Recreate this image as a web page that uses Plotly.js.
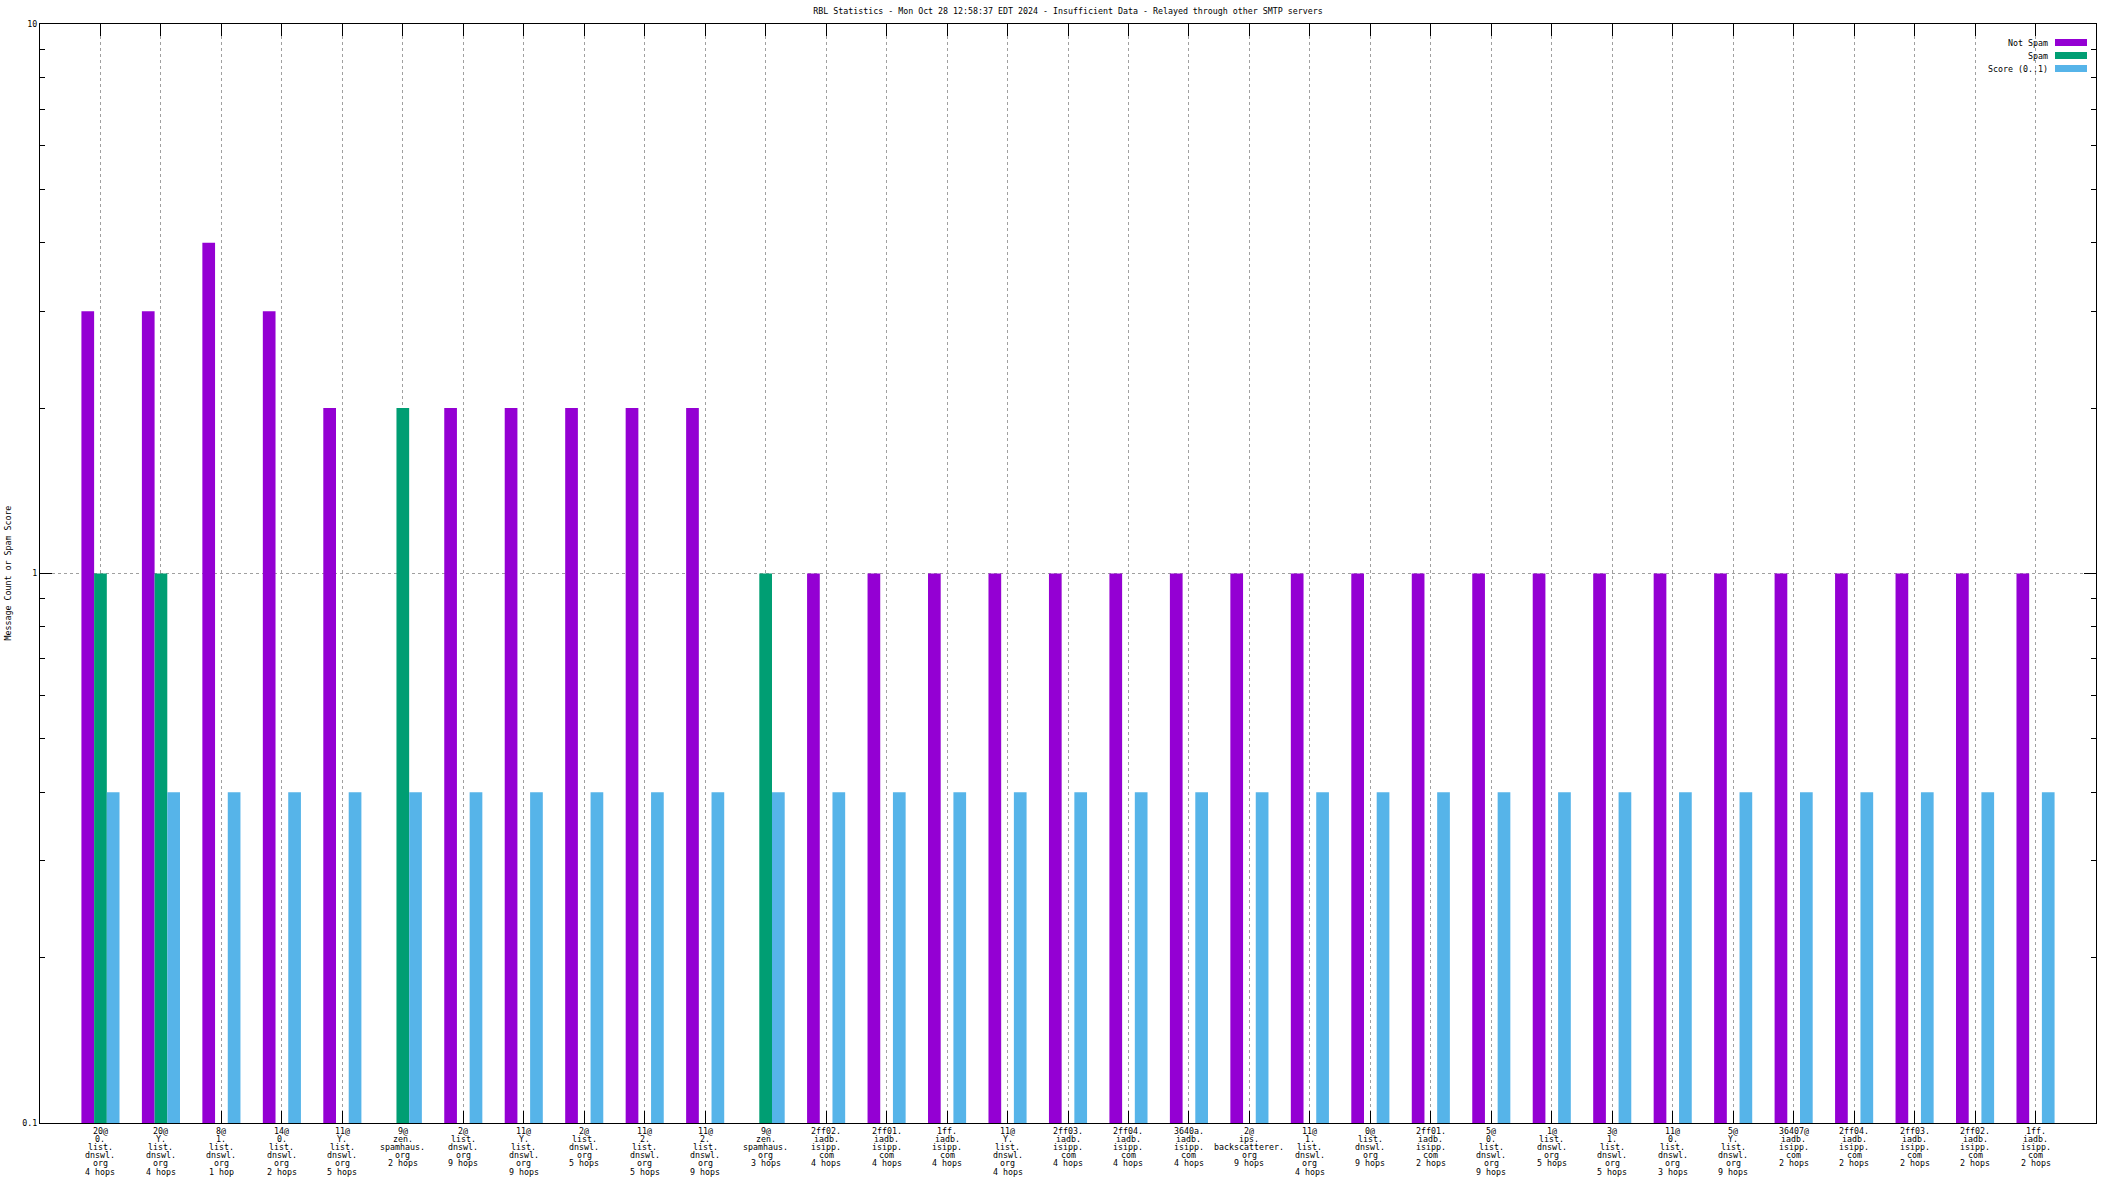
<!DOCTYPE html>
<html>
<head>
<meta charset="utf-8">
<script src="https://cdn.plot.ly/plotly-3.0.1.min.js"></script>
<style>
html,body{margin:0;padding:0;background:#fff;}
#chart{width:2112px;height:1188px;}
</style>
</head>
<body>
<div id="chart"></div>
<script>
const chartTitle = "RBL Statistics - Mon Oct 28 12:58:37 EDT 2024 - Insufficient Data - Relayed through other SMTP servers";
const yTitle = "Message Count or Spam Score";

const categories = [
  "20@\n0.\nlist.\ndnswl.\norg\n4 hops",
  "20@\nY.\nlist.\ndnswl.\norg\n4 hops",
  "8@\n1.\nlist.\ndnswl.\norg\n1 hop",
  "14@\n0.\nlist.\ndnswl.\norg\n2 hops",
  "11@\nY.\nlist.\ndnswl.\norg\n5 hops",
  "9@\nzen.\nspamhaus.\norg\n2 hops",
  "2@\nlist.\ndnswl.\norg\n9 hops",
  "11@\nY.\nlist.\ndnswl.\norg\n9 hops",
  "2@\nlist.\ndnswl.\norg\n5 hops",
  "11@\n2.\nlist.\ndnswl.\norg\n5 hops",
  "11@\n2.\nlist.\ndnswl.\norg\n9 hops",
  "9@\nzen.\nspamhaus.\norg\n3 hops",
  "2ff02.\niadb.\nisipp.\ncom\n4 hops",
  "2ff01.\niadb.\nisipp.\ncom\n4 hops",
  "1ff.\niadb.\nisipp.\ncom\n4 hops",
  "11@\nY.\nlist.\ndnswl.\norg\n4 hops",
  "2ff03.\niadb.\nisipp.\ncom\n4 hops",
  "2ff04.\niadb.\nisipp.\ncom\n4 hops",
  "3640a.\niadb.\nisipp.\ncom\n4 hops",
  "2@\nips.\nbackscatterer.\norg\n9 hops",
  "11@\n1.\nlist.\ndnswl.\norg\n4 hops",
  "0@\nlist.\ndnswl.\norg\n9 hops",
  "2ff01.\niadb.\nisipp.\ncom\n2 hops",
  "5@\n0.\nlist.\ndnswl.\norg\n9 hops",
  "1@\nlist.\ndnswl.\norg\n5 hops",
  "3@\n1.\nlist.\ndnswl.\norg\n5 hops",
  "11@\n0.\nlist.\ndnswl.\norg\n3 hops",
  "5@\nY.\nlist.\ndnswl.\norg\n9 hops",
  "36407@\niadb.\nisipp.\ncom\n2 hops",
  "2ff04.\niadb.\nisipp.\ncom\n2 hops",
  "2ff03.\niadb.\nisipp.\ncom\n2 hops",
  "2ff02.\niadb.\nisipp.\ncom\n2 hops",
  "1ff.\niadb.\nisipp.\ncom\n2 hops"
];

const notSpam = [3, 3, 4, 3, 2, null, 2, 2, 2, 2, 2, null,
  1, 1, 1, 1, 1, 1, 1, 1, 1, 1, 1, 1, 1, 1, 1, 1, 1, 1, 1, 1, 1];
const spam = [1, 1, null, null, null, 2, null, null, null, null, null, 1,
  null, null, null, null, null, null, null, null, null, null, null, null, null, null, null, null, null, null, null, null, null];
const score = [0.4, 0.4, 0.4, 0.4, 0.4, 0.4, 0.4, 0.4, 0.4, 0.4, 0.4, 0.4,
  0.4, 0.4, 0.4, 0.4, 0.4, 0.4, 0.4, 0.4, 0.4, 0.4, 0.4, 0.4, 0.4, 0.4, 0.4, 0.4, 0.4, 0.4, 0.4, 0.4, 0.4];

const seriesNames = ["Not Spam", "Spam", "Score (0..1)"];
const seriesColors = ["#9400d3", "#009e73", "#56b4e9"];

const yMajorTicks = [0.1, 1, 10];
const yMajorLabels = ["0.1", "1", "10"];
const yMinorTicks = [0.2, 0.3, 0.4, 0.5, 0.6, 0.7, 0.8, 0.9, 2, 3, 4, 5, 6, 7, 8, 9];

const FONT = "DejaVu Sans Mono, monospace";
const FS = 8.3;
const xIdx = categories.map((_, i) => i);
const seriesData = [notSpam, spam, score];

const traces = seriesData.map((vals, k) => ({
  type: "bar",
  x: xIdx,
  y: vals,
  name: seriesNames[k],
  marker: {color: seriesColors[k], line: {width: 0}},
  showlegend: false,
  hoverinfo: "x+y"
}));

const annotations = [];
// category labels, one annotation per line
categories.forEach((lab, i) => {
  lab.split("\n").forEach((line, j) => {
    annotations.push({
      text: line, x: i, xref: "x", y: 0, yref: "paper",
      xanchor: "center", yanchor: "middle",
      yshift: -8 - 8.1 * j, showarrow: false,
      font: {family: FONT, size: FS, color: "#000"}
    });
  });
});
// y-axis title
annotations.push({
  text: yTitle, x: 0, xref: "paper", y: 0.5, yref: "paper",
  xanchor: "center", yanchor: "middle", xshift: -33, textangle: -90,
  showarrow: false, font: {family: FONT, size: FS, color: "#000"}
});
// legend (text then swatch, gnuplot style)
const shapes = [];
seriesNames.forEach((nm, k) => {
  const cy = -18.5 - 13 * k;
  annotations.push({
    text: nm, x: 1, xref: "paper", y: 1, yref: "paper",
    xanchor: "right", yanchor: "middle", xshift: -46, yshift: cy,
    showarrow: false, font: {family: FONT, size: FS, color: "#000"}
  });
  shapes.push({
    type: "rect", xref: "paper", yref: "paper",
    xsizemode: "pixel", ysizemode: "pixel", xanchor: 1, yanchor: 1,
    x0: -41, x1: -9, y0: cy - 3.5, y1: cy + 3.5,
    fillcolor: seriesColors[k], line: {width: 0}
  });
});

const layout = {
  width: 2112, height: 1188,
  margin: {l: 40, r: 16, t: 24, b: 65, pad: 0},
  paper_bgcolor: "#fff", plot_bgcolor: "#fff",
  font: {family: FONT, size: FS, color: "#000"},
  title: {
    text: chartTitle, x: 0.5, xref: "paper", xanchor: "center",
    y: 1 - 11 / 1188, yref: "container", yanchor: "middle",
    font: {family: FONT, size: FS, color: "#000"}
  },
  barmode: "group",
  bargap: 0.37,
  bargroupgap: 0,
  xaxis: {
    type: "linear",
    range: [-1, 33],
    tickvals: xIdx,
    showticklabels: false,
    ticks: "inside", ticklen: 12, tickwidth: 1, tickcolor: "#000",
    showline: true, linecolor: "#000", linewidth: 1, mirror: "ticks",
    showgrid: true, gridcolor: "#a0a0a0", griddash: "dot", gridwidth: 1,
    zeroline: false, layer: "below traces", fixedrange: true
  },
  yaxis: {
    type: "log",
    range: [-1, 1],
    tickvals: yMajorTicks,
    ticktext: yMajorLabels,
    ticks: "inside", ticklen: 12, tickwidth: 1, tickcolor: "#000",
    tickfont: {family: FONT, size: FS, color: "#000"},
    showline: true, linecolor: "#000", linewidth: 1, mirror: "ticks",
    showgrid: true, gridcolor: "#a0a0a0", griddash: "dot", gridwidth: 1,
    zeroline: false,
    minor: {tickvals: yMinorTicks, ticks: "inside", ticklen: 5, tickwidth: 1, tickcolor: "#000", showgrid: false},
    fixedrange: true
  },
  annotations: annotations,
  shapes: shapes
};

Plotly.newPlot("chart", traces, layout, {displayModeBar: false, staticPlot: true});
</script>
</body>
</html>
